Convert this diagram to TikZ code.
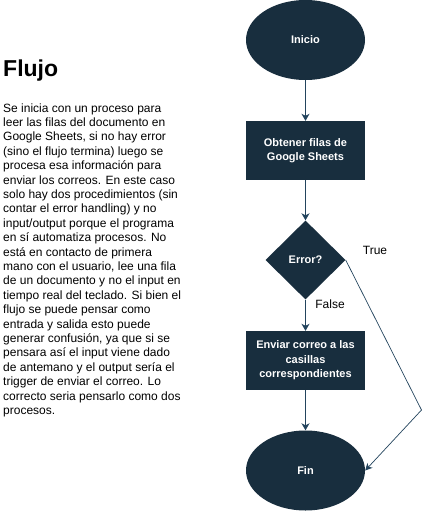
\documentclass[tikz,border=0pt]{standalone}
\usepackage{fontspec}
\setmainfont{Liberation Sans}
\usetikzlibrary{shapes.geometric,arrows.meta}
\definecolor{navy}{HTML}{182E3E}
\definecolor{linec}{HTML}{23445D}
\tikzset{
  term/.style={ellipse,fill=navy,draw=none,minimum width=119,minimum height=80,inner sep=0,text=white,font=\fontsize{11}{14.5}\selectfont\bfseries},
  proc/.style={rectangle,fill=navy,draw=none,minimum width=119,minimum height=59,inner sep=0,text=white,align=center,font=\fontsize{11}{14.5}\selectfont\bfseries},
  dec/.style={diamond,fill=navy,draw=none,minimum width=80,minimum height=79,inner sep=0,text=white,font=\fontsize{11}{14.5}\selectfont\bfseries},
  conn/.style={draw=linec,line width=1.1,-{Stealth[length=7,width=8,inset=2]}},
  thinconn/.style={draw=linec,line width=0.7,-{Stealth[length=7,width=7,inset=2]}},
  lbl/.style={inner sep=0,font=\fontsize{12}{14.4}\selectfont,text=black}
}
\begin{document}
\begin{tikzpicture}[x=1pt,y=-1pt]
\useasboundingbox (0,0) rectangle (429,511);
\fill[white] (0,0) rectangle (429,511);
\node[anchor=base west,inner sep=0,font=\fontsize{23}{27}\selectfont\bfseries] (title) at (3,77) {Flujo};
\node[anchor=north west,inner sep=0,align=left,font=\fontsize{12}{14.4}\selectfont] (para) at (3,101.9) {\strut Se inicia con un proceso para\\
leer las filas del documento en\\
Google Sheets, si no hay error\\
(sino el flujo termina) luego se\\
procesa esa información para\\
enviar los correos. En este caso\\
solo hay dos procedimientos (sin\\
contar el error handling) y no\\
input/output porque el programa\\
en sí automatiza procesos. No\\
está en contacto de primera\\
mano con el usuario, lee una fila\\
de un documento y no el input en\\
tiempo real del teclado. Si bien el\\
flujo se puede pensar como\\
entrada y salida esto puede\\
generar confusión, ya que si se\\
pensara así el input viene dado\\
de antemano y el output sería el\\
trigger de enviar el correo. Lo\\
correcto seria pensarlo como dos\\
procesos.};

\node[term] (ini) at (305.5,40) {Inicio};
\node[proc] (obt) at (305.5,150.5) {Obtener filas de\\Google Sheets};
\node[dec] (err) at (305.5,260) {Error?};
\node[proc] (env) at (305.5,360.5) {Enviar correo a las\\casillas\\correspondientes};
\node[term] (fin) at (305.5,470.5) {Fin};
\coordinate (bend) at (421.5,410);

\draw[conn] (ini) -- (obt);
\draw[conn] (obt) -- (err);
\draw[conn] (err) -- (env);
\draw[conn] (env) -- (fin);
\draw[thinconn] (err.east) -- (bend) -- (fin.east);

\node[lbl] (ltrue) at (375,250) {True};
\node[lbl] (lfalse) at (330,304) {False};
\end{tikzpicture}
\end{document}
